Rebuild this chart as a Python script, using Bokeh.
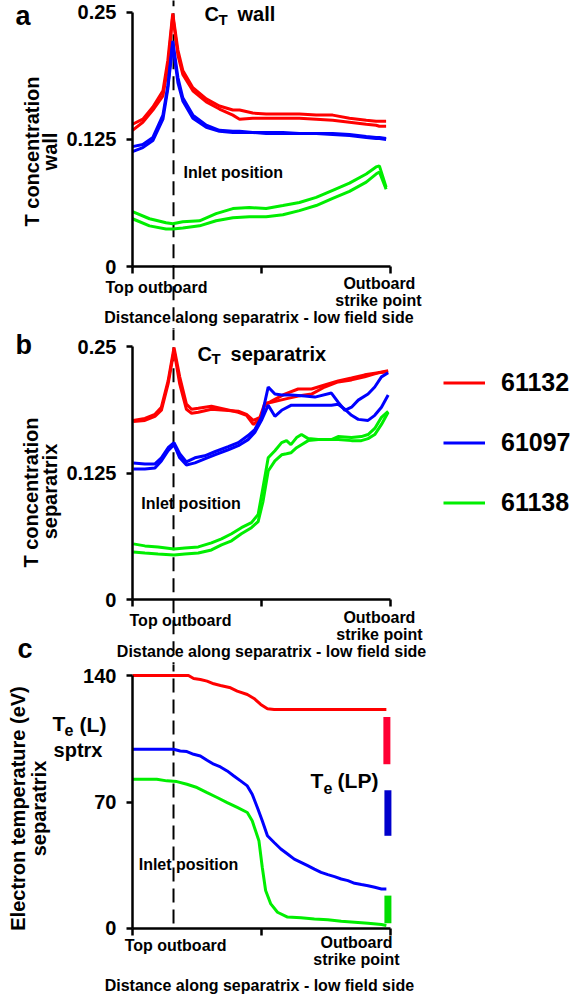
import math
from bokeh.plotting import figure
from bokeh.layouts import column
from bokeh.models import Range1d, FixedTicker, Label, Legend, LegendItem
from bokeh.embed import file_html
from bokeh.resources import INLINE

FONT = "Liberation Sans"
RED = "#ff0000"
BLUE = "#0000ff"
GREEN = "#00ee00"

# ---------------- data (x = normalised distance along separatrix) ----------------
INLET = 0.159

# panel a: T concentration at the wall
xa_rb = [0.0, 0.040, 0.079, 0.118, 0.137, 0.156, 0.176, 0.195, 0.234, 0.286, 0.337, 0.389,
         0.415, 0.466, 0.518, 0.583, 0.647, 0.712, 0.776, 0.841, 0.906, 0.944, 0.957, 0.983]
a_red1 = [0.140, 0.145, 0.157, 0.173, 0.203, 0.249, 0.213, 0.193, 0.176, 0.165, 0.158, 0.154,
          0.154, 0.151, 0.150, 0.150, 0.150, 0.149, 0.149, 0.146, 0.144, 0.143, 0.143, 0.143]
a_red2 = [0.134, 0.142, 0.154, 0.168, 0.196, 0.247, 0.208, 0.189, 0.173, 0.162, 0.155, 0.149,
          0.145, 0.146, 0.146, 0.146, 0.146, 0.145, 0.144, 0.142, 0.140, 0.139, 0.138, 0.138]
a_blue1 = [0.118, 0.120, 0.127, 0.149, 0.178, 0.222, 0.186, 0.166, 0.149, 0.139, 0.134, 0.133,
           0.133, 0.132, 0.132, 0.132, 0.131, 0.131, 0.131, 0.130, 0.128, 0.127, 0.127, 0.126]
a_blue2 = [0.113, 0.117, 0.124, 0.145, 0.175, 0.219, 0.181, 0.163, 0.146, 0.137, 0.133, 0.132,
           0.132, 0.132, 0.131, 0.131, 0.131, 0.131, 0.130, 0.129, 0.127, 0.126, 0.126, 0.125]
xa_g = [0.0, 0.066, 0.130, 0.156, 0.195, 0.260, 0.324, 0.389, 0.453, 0.518, 0.583, 0.647,
        0.712, 0.776, 0.841, 0.906, 0.944, 0.957, 0.983]
a_green1 = [0.054, 0.047, 0.043, 0.042, 0.044, 0.045, 0.052, 0.057, 0.058, 0.057, 0.060, 0.063,
            0.068, 0.075, 0.082, 0.091, 0.098, 0.099, 0.078]
a_green2 = [0.047, 0.040, 0.037, 0.037, 0.038, 0.040, 0.045, 0.048, 0.049, 0.049, 0.051, 0.055,
            0.060, 0.067, 0.074, 0.083, 0.091, 0.093, 0.076]

# panel b: T concentration at the separatrix
xb_r = [0.003, 0.048, 0.087, 0.112, 0.138, 0.161, 0.183, 0.209, 0.229, 0.255, 0.306, 0.358, 0.410,
        0.442, 0.468, 0.494, 0.513, 0.539, 0.590, 0.642, 0.694, 0.745, 0.797, 0.849, 0.900, 0.952, 0.991]
b_red1 = [0.177, 0.179, 0.183, 0.190, 0.216, 0.249, 0.220, 0.193, 0.188, 0.189, 0.191, 0.188, 0.185,
          0.182, 0.173, 0.178, 0.192, 0.196, 0.203, 0.208, 0.208, 0.212, 0.216, 0.219, 0.222, 0.224, 0.226]
b_red2 = [0.176, 0.177, 0.181, 0.187, 0.213, 0.246, 0.213, 0.188, 0.184, 0.185, 0.188, 0.187, 0.186,
          0.183, 0.177, 0.180, 0.194, 0.195, 0.198, 0.201, 0.203, 0.210, 0.215, 0.217, 0.220, 0.224, 0.225]
xb_b = [0.003, 0.048, 0.087, 0.112, 0.138, 0.161, 0.183, 0.209, 0.242, 0.280, 0.319, 0.371, 0.410,
        0.448, 0.474, 0.500, 0.526, 0.552, 0.578, 0.616, 0.668, 0.707, 0.771, 0.797, 0.823, 0.849,
        0.875, 0.913, 0.939, 0.965, 0.991]
b_blue1 = [0.135, 0.134, 0.134, 0.140, 0.150, 0.155, 0.144, 0.136, 0.140, 0.142, 0.146, 0.151, 0.155,
           0.162, 0.168, 0.180, 0.210, 0.203, 0.202, 0.202, 0.201, 0.200, 0.204, 0.195, 0.187, 0.190,
           0.197, 0.203, 0.210, 0.220, 0.224]
b_blue2 = [0.129, 0.129, 0.130, 0.137, 0.147, 0.153, 0.140, 0.133, 0.135, 0.139, 0.143, 0.148, 0.152,
           0.158, 0.165, 0.177, 0.192, 0.181, 0.187, 0.192, 0.192, 0.192, 0.192, 0.193, 0.188, 0.182,
           0.178, 0.177, 0.182, 0.190, 0.202]
xb_g = [0.003, 0.048, 0.099, 0.161, 0.203, 0.255, 0.306, 0.345, 0.384, 0.422, 0.461, 0.487, 0.506,
        0.526, 0.552, 0.578, 0.597, 0.614, 0.636, 0.655, 0.681, 0.720, 0.771, 0.797, 0.849, 0.887,
        0.913, 0.939, 0.965, 0.991]
b_green1 = [0.055, 0.053, 0.052, 0.050, 0.051, 0.052, 0.056, 0.060, 0.065, 0.071, 0.076, 0.084, 0.111,
            0.140, 0.147, 0.155, 0.157, 0.153, 0.160, 0.163, 0.159, 0.158, 0.158, 0.161, 0.160, 0.161,
            0.163, 0.169, 0.180, 0.186]
b_green2 = [0.047, 0.046, 0.045, 0.044, 0.045, 0.046, 0.049, 0.054, 0.058, 0.065, 0.071, 0.077, 0.097,
            0.127, 0.137, 0.143, 0.144, 0.145, 0.150, 0.153, 0.157, 0.158, 0.158, 0.158, 0.157, 0.157,
            0.159, 0.163, 0.173, 0.185]

# panel c: electron temperature at the separatrix (eV)
xc_r = [0.0, 0.217, 0.237, 0.263, 0.289, 0.315, 0.341, 0.380, 0.406, 0.445, 0.471, 0.497, 0.523, 0.549, 0.984]
c_red = [140, 140, 138.3, 137.8, 136.9, 135.4, 134.5, 133.2, 131.4, 129.5, 127.3, 124.0, 121.6, 121.2, 121.2]
xc_b = [0.0, 0.159, 0.185, 0.211, 0.237, 0.263, 0.289, 0.315, 0.341, 0.367, 0.393, 0.419, 0.445, 0.464,
        0.484, 0.503, 0.523, 0.549, 0.575, 0.601, 0.627, 0.653, 0.679, 0.705, 0.731, 0.757, 0.783, 0.809,
        0.835, 0.861, 0.887, 0.913, 0.939, 0.965, 0.984]
c_blue = [99.2, 99.2, 98.2, 97.9, 96.4, 95.5, 93.1, 90.9, 89.4, 87.2, 84.4, 81.7, 78.9, 74.3,
          67.0, 59.6, 51.3, 47.6, 44.0, 41.2, 38.4, 36.6, 34.8, 32.9, 31.1, 29.8, 28.7, 27.4,
          26.5, 25.0, 24.3, 23.7, 22.8, 21.9, 21.9]
xc_g = [0.0, 0.094, 0.133, 0.172, 0.211, 0.250, 0.289, 0.328, 0.367, 0.406, 0.445, 0.464, 0.477, 0.490,
        0.503, 0.516, 0.536, 0.562, 0.601, 0.653, 0.705, 0.757, 0.809, 0.861, 0.913, 0.965, 0.984]
c_green = [82.6, 82.6, 81.7, 81.3, 79.8, 78.0, 75.2, 72.5, 69.7, 67.0, 64.2, 59.6, 54.1, 48.6,
           33.9, 21.0, 13.6, 9.0, 6.3, 5.9, 5.3, 4.8, 4.0, 3.5, 2.9, 2.2, 1.7]

# Langmuir probe Te ranges at the strike point
lp_x = [0.986, 0.99, 0.99]
lp_low = [90.9, 51.3, 2.9]
lp_high = [117.0, 76.5, 18.2]
lp_colors = ["#ff0033", "#0000cc", "#00dd00"]

shots = ["61132", "61097", "61138"]

XLAB = "Distance along separatrix - low field side"


def make_fig(height, xr, yr, ymax, yticks, ylabels):
    p = figure(width=574, height=height, output_backend="svg", toolbar_location=None,
               title=None, x_range=Range1d(*xr), y_range=Range1d(*yr),
               min_border=0, min_border_left=0, min_border_right=0,
               min_border_top=0, min_border_bottom=0)
    p.outline_line_color = None
    p.grid.visible = False
    p.background_fill_color = "white"
    p.border_fill_color = "white"
    xa = p.xaxis[0]
    xa.fixed_location = 0
    xa.bounds = (0, 1)
    xa.ticker = FixedTicker(ticks=[0, 0.5, 1])
    xa.minor_tick_line_color = None
    xa.major_tick_in = 0
    xa.major_tick_out = 7
    xa.major_tick_line_width = 2.5
    xa.axis_line_width = 2.5
    xa.major_label_text_alpha = 0
    ya = p.yaxis[0]
    ya.fixed_location = 0
    ya.bounds = (0, ymax)
    ya.ticker = FixedTicker(ticks=yticks)
    ya.major_label_overrides = {t: l for t, l in zip(yticks, ylabels)}
    ya.minor_tick_line_color = None
    ya.major_tick_in = 0
    ya.major_tick_out = 6
    ya.major_tick_line_width = 2.5
    ya.axis_line_width = 2.5
    ya.major_label_standoff = 10
    ya.major_label_text_font = FONT
    ya.major_label_text_font_size = "20px"
    ya.major_label_text_font_style = "bold"
    ya.major_label_text_color = "black"
    return p


def txt(p, x, y, s, size, align="left", angle=0.0):
    p.add_layout(Label(x=x, y=y, text=s, text_font=FONT, text_font_size=f"{size}px",
                       text_font_style="bold", text_align=align, text_baseline="middle",
                       text_color="black", angle=angle))


def inlet(p, y0, y1):
    p.line([INLET, INLET], [y0, y1], line_color="black", line_width=2, line_dash="14 7")


LW = 3
VERT = math.pi / 2

# ---------------- panel a ----------------
pa = make_fig(329, (-0.5116, 1.7132), (-0.0620, 0.2618), 0.25,
              [0, 0.125, 0.25], ["0", "0.125", "0.25"])
inlet(pa, 0.27, -0.07)
pa.line(xa_rb, a_red1, color=RED, line_width=LW)
pa.line(xa_rb, a_red2, color=RED, line_width=LW)
pa.line(xa_rb, a_blue1, color=BLUE, line_width=LW)
pa.line(xa_rb, a_blue2, color=BLUE, line_width=LW)
pa.line(xa_g, a_green1, color=GREEN, line_width=LW)
pa.line(xa_g, a_green2, color=GREEN, line_width=LW)
txt(pa, -0.453, 0.247, "a", 27)
txt(pa, 0.279, 0.249, "C", 20)
txt(pa, 0.333, 0.243, "T", 15)
txt(pa, 0.407, 0.249, "wall", 20)
txt(pa, 0.391, 0.0925, "Inlet position", 16, "center")
txt(pa, 0.093, -0.0207, "Top outboard", 16, "center")
txt(pa, 0.957, -0.0167, "Outboard", 16, "center")
txt(pa, 0.953, -0.0335, "strike point", 16, "center")
txt(pa, 0.490, -0.0502, XLAB, 16, "center")
txt(pa, -0.391, 0.1132, "T concentration", 20, "center", VERT)
txt(pa, -0.318, 0.1132, "wall", 20, "center", VERT)

# ---------------- panel b ----------------
pb = make_fig(335, (-0.5116, 1.7132), (-0.0642, 0.2668), 0.25,
              [0, 0.125, 0.25], ["0", "0.125", "0.25"])
inlet(pb, 0.27, -0.07)
rr = pb.line(xb_r, b_red1, color=RED, line_width=LW)
pb.line(xb_r, b_red2, color=RED, line_width=LW)
rb = pb.line(xb_b, b_blue1, color=BLUE, line_width=LW)
pb.line(xb_b, b_blue2, color=BLUE, line_width=LW)
rg = pb.line(xb_g, b_green1, color=GREEN, line_width=LW)
pb.line(xb_g, b_green2, color=GREEN, line_width=LW)
txt(pb, -0.453, 0.251, "b", 27)
txt(pb, 0.252, 0.243, "C", 20)
txt(pb, 0.306, 0.238, "T", 15)
txt(pb, 0.380, 0.243, "separatrix", 20)
txt(pb, 0.227, 0.0949, "Inlet position", 16, "center")
txt(pb, 0.186, -0.0208, "Top outboard", 16, "center")
txt(pb, 0.957, -0.0178, "Outboard", 16, "center")
txt(pb, 0.957, -0.0346, "strike point", 16, "center")
txt(pb, 0.539, -0.0514, XLAB, 16, "center")
txt(pb, -0.446, -0.0484, "c", 27)
txt(pb, -0.395, 0.1057, "T concentration", 20, "center", VERT)
txt(pb, -0.318, 0.1067, "separatrix", 20, "center", VERT)

legend = Legend(items=[LegendItem(label=shots[0], renderers=[rr]),
                       LegendItem(label=shots[1], renderers=[rb]),
                       LegendItem(label=shots[2], renderers=[rg])],
                location=(443, 147), glyph_width=42, glyph_height=29, label_height=29,
                spacing=31, label_standoff=16, padding=0, margin=0,
                label_text_font=FONT, label_text_font_size="25px",
                label_text_font_style="bold", label_text_color="black",
                border_line_color=None, background_fill_alpha=0)
pb.add_layout(legend)

# ---------------- panel c ----------------
pc = make_fig(335, (-0.5116, 1.7132), (-39.29, 146.09), 140,
              [0, 70, 140], ["0", "70", "140"])
inlet(pc, 150, 0)
pc.line(xc_r, c_red, color=RED, line_width=LW)
pc.line(xc_b, c_blue, color=BLUE, line_width=LW)
pc.line(xc_g, c_green, color=GREEN, line_width=LW)
pc.segment(x0=lp_x, y0=lp_low, x1=lp_x, y1=lp_high, line_color=lp_colors, line_width=7)
txt(pc, -0.310, 113.6, "T", 21)
txt(pc, -0.264, 109.6, "e", 16)
txt(pc, -0.205, 112.9, "(L)", 21)
txt(pc, -0.306, 98.5, "sptrx", 20)
txt(pc, 0.690, 81.9, "T", 21)
txt(pc, 0.740, 78.0, "e", 16)
txt(pc, 0.795, 81.9, "(LP)", 21)
txt(pc, 0.217, 35.4, "Inlet position", 16, "center")
txt(pc, 0.167, -9.41, "Top outboard", 16, "center")
txt(pc, 0.868, -7.75, "Outboard", 16, "center")
txt(pc, 0.868, -17.15, "strike point", 16, "center")
txt(pc, 0.492, -31.5, XLAB, 16, "center")
txt(pc, -0.442, 66.4, "Electron temperature (eV)", 20, "center", VERT)
txt(pc, -0.364, 66.4, "separatrix", 20, "center", VERT)

layout = column(pa, pb, pc, spacing=0)
open("out.html", "w").write(file_html(layout, INLINE))
